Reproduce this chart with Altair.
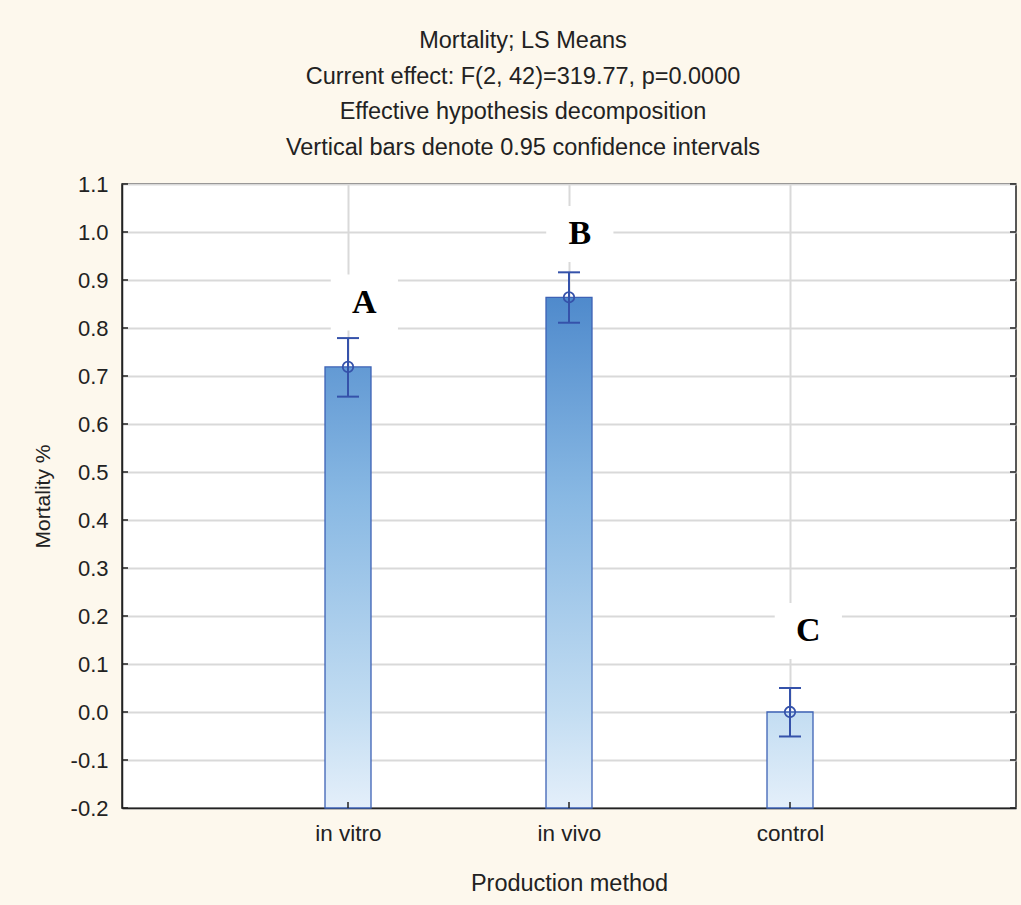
import json

import altair as alt
import pandas as pd

# ---- data -------------------------------------------------------------
CATEGORIES = ["in vitro", "in vivo", "control"]
POSITIONS = [1, 2, 3]
MEANS = [0.719, 0.864, 0.0]
CI_LOW = [0.657, 0.811, -0.051]
CI_HIGH = [0.779, 0.916, 0.050]

GROUP_LETTERS = ["A", "B", "C"]
LETTER_X = [1.074, 2.049, 3.083]
LETTER_Y = [0.853, 0.996, 0.169]

Y_TICKS = [-0.2, -0.1, 0.0, 0.1, 0.2, 0.3, 0.4, 0.5, 0.6, 0.7, 0.8, 0.9, 1.0, 1.1]

TITLE_LINES = [
    "Mortality; LS Means",
    "Current effect: F(2, 42)=319.77, p=0.0000",
    "Effective hypothesis decomposition",
    "Vertical bars denote 0.95 confidence intervals",
]

# ---- layout / style ---------------------------------------------------
W, H = 894, 624
Y_MIN, Y_MAX = -0.2, 1.1
FONT = "Liberation Sans"
INK = "#222222"
BLUE_LINE = "#3552aa"
BAR_EDGE = "#3d62b5"
CREAM = "#fdf8ed"

# fill colour as a function of height on the value axis
GRADIENT_STOPS = [(0.9, "#4a86ca"), (0.45, "#88b8e3"), (0.0, "#c3ddf2"), (-0.2, "#e4effa")]


def _hex(c):
    return [int(c[i:i + 2], 16) for i in (1, 3, 5)]


def color_at(v):
    pts = GRADIENT_STOPS
    if v >= pts[0][0]:
        return pts[0][1]
    for (v0, c0), (v1, c1) in zip(pts, pts[1:]):
        if v1 <= v <= v0:
            t = (v0 - v) / (v0 - v1)
            a, b = _hex(c0), _hex(c1)
            return "#" + "".join(f"{round(x + t * (y - x)):02x}" for x, y in zip(a, b))
    return pts[-1][1]


def bar_gradient(v):
    stops = [{"offset": 0, "color": color_at(v)}]
    for s, c in GRADIENT_STOPS:
        if s < v:
            stops.append({"offset": (v - s) / (v - Y_MIN), "color": c})
    return {"gradient": "linear", "x1": 0, "y1": 0, "x2": 0, "y2": 1, "stops": stops}


df = pd.DataFrame({
    "category": CATEGORIES,
    "pos": POSITIONS,
    "mean": MEANS,
    "lo": CI_LOW,
    "hi": CI_HIGH,
    "base": [Y_MIN] * len(CATEGORIES),
})
letters = pd.DataFrame({"letter": GROUP_LETTERS, "lx": LETTER_X, "ly": LETTER_Y})
ticks = pd.DataFrame({"t": Y_TICKS})

x_scale = alt.Scale(domain=[0, 4], nice=False, zero=False)
y_scale = alt.Scale(domain=[Y_MIN, Y_MAX], nice=False, zero=False)

x_label_expr = json.dumps([""] + CATEGORIES) + "[datum.value]"
y_label_expr = "(datum.value < -0.001 ? '-' : '') + format(abs(datum.value), '.1f')"

x_axis = alt.Axis(
    title="Production method", values=POSITIONS, labelExpr=x_label_expr,
    grid=True, ticks=False, labelPadding=14, labelFontSize=22.5,
    titlePadding=27, titleFontSize=23.5,
)
y_axis = alt.Axis(
    title="Mortality %", values=Y_TICKS, labelExpr=y_label_expr,
    grid=True, ticks=False, labelPadding=14, labelFontSize=22,
    titlePadding=17, titleFontSize=21,
)


def xq(field):
    return alt.X(f"{field}:Q", scale=x_scale, axis=x_axis)


def yq(field):
    return alt.Y(f"{field}:Q", scale=y_scale, axis=y_axis)


# white boxes behind the group letters
boxes = alt.Chart(letters).mark_point(
    shape="M-1.2,-1H1.2V1H-1.2Z", filled=True, color="white", opacity=1,
    size=3136, strokeWidth=0,
).encode(x=xq("lx"), y=yq("ly"))

# one bar per group, each filled with its slice of the shared gradient
bars = [
    alt.Chart(df).transform_filter(alt.datum.category == cat).mark_bar(
        size=46, orient="vertical", color=bar_gradient(v),
        stroke=BAR_EDGE, strokeWidth=1.3,
    ).encode(x=xq("pos"), y=yq("mean"), y2="base:Q")
    for cat, v in zip(CATEGORIES, MEANS)
]

whisker = alt.Chart(df).mark_rule(color=BLUE_LINE, strokeWidth=2).encode(
    x=xq("pos"), y=yq("lo"), y2="hi:Q"
)
cap_lo = alt.Chart(df).mark_tick(
    color=BLUE_LINE, orient="horizontal", size=22, thickness=2, opacity=1
).encode(x=xq("pos"), y=yq("lo"))
cap_hi = alt.Chart(df).mark_tick(
    color=BLUE_LINE, orient="horizontal", size=22, thickness=2, opacity=1
).encode(x=xq("pos"), y=yq("hi"))
mean_pt = alt.Chart(df).mark_point(
    shape="circle", filled=False, color=BLUE_LINE, size=110, strokeWidth=1.8, opacity=1
).encode(x=xq("pos"), y=yq("mean"))

# inward tick marks on the frame
left_ticks = alt.Chart(ticks).mark_rule(color=INK, strokeWidth=1.5).encode(
    x=alt.value(0), x2=alt.value(6), y=yq("t")
)
right_ticks = alt.Chart(ticks).mark_rule(color=INK, strokeWidth=1.5).encode(
    x=alt.value(W - 6), x2=alt.value(W), y=yq("t")
)
bottom_ticks = alt.Chart(df).mark_rule(color=INK, strokeWidth=1.5).encode(
    x=xq("pos"), y=alt.value(H), y2=alt.value(H - 6)
)

text = alt.Chart(letters).mark_text(
    font="Liberation Serif", fontWeight="bold", fontSize=34, color="black",
    align="center", baseline="middle",
).encode(x=xq("lx"), y=yq("ly"), text="letter:N")

chart = alt.layer(
    boxes, *bars, whisker, cap_lo, cap_hi, mean_pt,
    left_ticks, right_ticks, bottom_ticks, text,
).properties(
    width=W,
    height=H,
    autosize=alt.AutoSizeParams(type="none"),
    padding={"left": 122, "top": 184, "right": 5, "bottom": 97},
    title=alt.Title(
        TITLE_LINES, fontSize=23.5, font=FONT, fontWeight="normal", color=INK,
        lineHeight=35.5, anchor="middle", frame="group", dx=-46, offset=14,
    ),
).configure(
    background=CREAM,
).configure_view(
    fill="white", stroke=INK, strokeWidth=1.5,
).configure_axis(
    domainColor=INK, domainWidth=1.5,
    gridColor="#d9d9d9", gridWidth=2,
    labelFont=FONT, labelColor=INK,
    titleFont=FONT, titleFontWeight="normal", titleColor=INK,
)

chart.save("out.html", embed_options={"renderer": "svg", "actions": False})
